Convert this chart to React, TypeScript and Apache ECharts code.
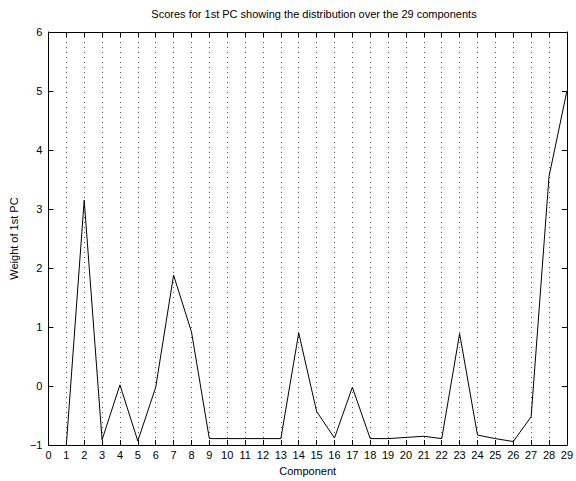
import React, { useEffect, useRef } from "react";
import * as echarts from "echarts";

const components = [1, 2, 3, 4, 5, 6, 7, 8, 9, 10, 11, 12, 13, 14, 15, 16, 17, 18, 19, 20, 21, 22, 23, 24, 25, 26, 27, 28, 29];
const weights = [-1.0, 3.15, -0.91, 0.02, -0.93, -0.02, 1.88, 0.92, -0.89, -0.89, -0.89, -0.89, -0.89, 0.9, -0.43, -0.88, -0.02, -0.89, -0.89, -0.87, -0.85, -0.89, 0.89, -0.83, -0.89, -0.94, -0.52, 3.55, 5.0];

const titleText = "Scores for 1st PC showing the distribution over the 29 components";
const xName = "Component";
const yName = "Weight of 1st PC";

const FONT = "'Liberation Sans', Arial, sans-serif";

export default function App() {
  const ref = useRef<HTMLDivElement>(null);
  useEffect(() => {
    if (!ref.current) return;
    const chart = echarts.init(ref.current, null, { renderer: "svg" });
    const data = components.map((c, i) => [c, weights[i]]);
    const tickStyle = { show: true, inside: true, length: 5, lineStyle: { color: "#000", width: 1 } };
    const lineStyle = { show: true, onZero: false, lineStyle: { color: "#000", width: 1 } };
    chart.setOption({
      animation: false,
      backgroundColor: "#fff",
      textStyle: { fontFamily: FONT },
      title: {
        text: titleText,
        left: 309,
        textAlign: "center",
        top: 3,
        textStyle: { fontSize: 11, fontWeight: "normal", color: "#000", fontFamily: FONT },
      },
      grid: { left: 43, right: 2, top: 32, bottom: 34, containLabel: false },
      xAxis: [
        {
          type: "value",
          min: 0,
          max: 29,
          interval: 1,
          position: "bottom",
          name: xName,
          nameLocation: "middle",
          nameGap: 17,
          nameTextStyle: { fontSize: 11, color: "#000", fontFamily: FONT },
          axisLine: lineStyle,
          axisTick: tickStyle,
          axisLabel: { fontSize: 11, color: "#000", margin: 4, fontFamily: FONT, showMaxLabel: true, showMinLabel: true },
          splitLine: { show: true, lineStyle: { color: "#555", width: 1, type: [1, 4] } },
        },
        {
          type: "value",
          min: 0,
          max: 29,
          interval: 1,
          position: "top",
          axisLine: lineStyle,
          axisTick: tickStyle,
          axisLabel: { show: false },
          splitLine: { show: false },
        },
      ],
      yAxis: [
        {
          type: "value",
          min: -1,
          max: 6,
          interval: 1,
          position: "left",
          name: yName,
          nameLocation: "middle",
          nameGap: 19,
          nameRotate: 90,
          nameTextStyle: { fontSize: 11, color: "#000", fontFamily: FONT },
          axisLine: lineStyle,
          axisTick: tickStyle,
          axisLabel: {
            fontSize: 11,
            color: "#000",
            margin: 6,
            fontFamily: FONT,
            formatter: (v: number) => String(v).replace("-", "\u2212"),
          },
          splitLine: { show: false },
        },
        {
          type: "value",
          min: -1,
          max: 6,
          interval: 1,
          position: "right",
          axisLine: lineStyle,
          axisTick: tickStyle,
          axisLabel: { show: false },
          splitLine: { show: false },
        },
      ],
      series: [
        {
          type: "line",
          data,
          xAxisIndex: 0,
          yAxisIndex: 0,
          showSymbol: false,
          symbol: "none",
          lineStyle: { color: "#000", width: 1 },
          clip: true,
        },
      ],
    });
    return () => chart.dispose();
  }, []);
  return <div ref={ref} style={{ position: "fixed", left: 0, top: 0, width: 576, height: 481 }} />;
}
